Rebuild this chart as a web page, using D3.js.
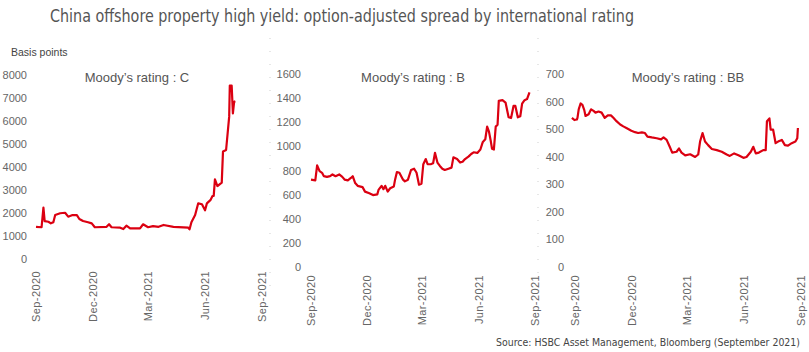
<!DOCTYPE html>
<html>
<head>
<meta charset="utf-8">
<script src="https://cdn.jsdelivr.net/npm/d3@7"></script>
<style>
  body { margin: 0; background: #fff; }
  svg { display: block; font-family: Arial, "Liberation Sans", sans-serif; }
  .tick text { fill: #666; font-size: 11px; }
  .line { fill: none; stroke: #db0011; stroke-width: 2.2; stroke-linejoin: round; }
  .narrow { font-family: "Liberation Sans Narrow", "DejaVu Sans Condensed", Arial, sans-serif; }
</style>
</head>
<body>
<svg width="809" height="352"></svg>
<script>
// panel titles and axis ticks
const panelTitles = ["Moody\u2019s rating : C", "Moody\u2019s rating : B", "Moody\u2019s rating : BB"];
const xTickDates = ["2020-09-01", "2020-12-01", "2021-03-01", "2021-06-01", "2021-09-01"];
const yTicksC = [0, 1000, 2000, 3000, 4000, 5000, 6000, 7000, 8000];
const yTicksB = [0, 200, 400, 600, 800, 1000, 1200, 1400, 1600];
const yTicksBB = [0, 100, 200, 300, 400, 500, 600, 700];

// Moody's C
const cDates = ["2020-09-01","2020-09-10","2020-09-13","2020-09-15","2020-09-21","2020-09-25","2020-09-29",
  "2020-10-02","2020-10-10","2020-10-18","2020-10-23","2020-10-30","2020-11-06","2020-11-10","2020-11-16",
  "2020-11-24","2020-11-30","2020-12-05","2020-12-24","2020-12-28","2021-01-01","2021-01-15","2021-01-20",
  "2021-01-25","2021-01-31","2021-02-16","2021-02-21","2021-03-01","2021-03-09","2021-03-18","2021-03-26",
  "2021-04-11","2021-05-05","2021-05-07","2021-05-10","2021-05-16","2021-05-21","2021-05-27","2021-06-01",
  "2021-06-04","2021-06-10","2021-06-13","2021-06-15","2021-06-17","2021-06-21","2021-06-28","2021-06-30",
  "2021-07-05","2021-07-10","2021-07-11","2021-07-14","2021-07-16","2021-07-18","2021-07-20"];
const cValues = [1400,1380,2230,1650,1620,1550,1600,
  1910,1990,2010,1840,1910,1910,1740,1650,
  1600,1550,1380,1400,1510,1380,1360,1300,
  1450,1330,1330,1510,1380,1430,1400,1480,
  1400,1360,1290,1600,1910,2420,2380,2120,
  2420,2570,2740,2740,3460,3170,3320,4670,
  4740,6190,7540,7540,6330,6840,6860];

// Moody's B
const bDates = ["2020-09-01","2020-09-08","2020-09-11","2020-09-15","2020-09-19","2020-09-22","2020-09-27",
  "2020-10-02","2020-10-06","2020-10-11","2020-10-17","2020-10-22","2020-10-26","2020-10-31","2020-11-05",
  "2020-11-08","2020-11-12","2020-11-16","2020-11-24","2020-11-28","2020-12-05","2020-12-11","2020-12-18",
  "2020-12-20","2020-12-25","2020-12-28","2020-12-31","2021-01-04","2021-01-08","2021-01-14","2021-01-16",
  "2021-01-19","2021-01-23","2021-01-29","2021-02-01","2021-02-06","2021-02-11","2021-02-16","2021-02-20",
  "2021-02-24","2021-02-28","2021-03-03","2021-03-07","2021-03-10","2021-03-15","2021-03-19","2021-03-22",
  "2021-03-26","2021-03-30","2021-04-03","2021-04-07","2021-04-13","2021-04-18","2021-04-21","2021-04-27",
  "2021-05-02","2021-05-06","2021-05-10","2021-05-16","2021-05-20","2021-05-24","2021-05-30","2021-06-04",
  "2021-06-08","2021-06-12","2021-06-15","2021-06-18","2021-06-21","2021-06-23","2021-06-26","2021-06-29",
  "2021-07-02","2021-07-04","2021-07-10","2021-07-15","2021-07-20","2021-07-24","2021-07-28","2021-07-31",
  "2021-08-04","2021-08-08","2021-08-11","2021-08-15","2021-08-19","2021-08-23"];
const bValues = [724,718,843,795,781,753,747,
  753,767,753,767,747,724,718,738,
  753,696,673,662,625,611,596,602,
  639,673,645,673,625,653,668,724,
  787,781,724,710,724,804,815,781,
  682,690,852,895,852,852,860,946,
  866,838,815,804,815,824,909,895,
  866,872,895,917,937,951,946,974,
  1037,1059,1164,1122,1042,980,974,1164,
  1179,1377,1383,1363,1241,1235,1335,1335,
  1241,1250,1355,1383,1392,1448];

// Moody's BB
const bbDates = ["2020-08-27","2020-08-31","2020-09-04","2020-09-05","2020-09-07","2020-09-10","2020-09-13",
  "2020-09-16","2020-09-18","2020-09-23","2020-09-27","2020-10-01","2020-10-04","2020-10-09","2020-10-14",
  "2020-10-19","2020-10-24","2020-10-29","2020-11-02","2020-11-07","2020-11-13","2020-11-18","2020-11-23",
  "2020-12-01","2020-12-07","2020-12-12","2020-12-18","2020-12-23","2020-12-27","2021-01-03","2021-01-11",
  "2021-01-18","2021-01-22","2021-01-27","2021-02-01","2021-02-05","2021-02-12","2021-02-16","2021-02-20",
  "2021-02-26","2021-03-06","2021-03-14","2021-03-19","2021-03-22","2021-03-26","2021-03-30","2021-04-04",
  "2021-04-10","2021-04-18","2021-04-26","2021-05-04","2021-05-09","2021-05-16","2021-05-23","2021-05-31",
  "2021-06-05","2021-06-12","2021-06-16","2021-06-20","2021-06-25","2021-07-02","2021-07-06","2021-07-08",
  "2021-07-12","2021-07-14","2021-07-18","2021-07-22","2021-07-26","2021-08-01","2021-08-06","2021-08-11",
  "2021-08-17","2021-08-23","2021-08-26","2021-08-27"];
const bbValues = [541,533,535,541,572,593,588,
  569,548,554,572,566,560,564,560,
  541,550,550,541,529,517,510,504,
  494,489,486,488,486,473,470,467,
  463,470,461,436,415,418,430,415,
  405,409,399,408,455,486,455,442,
  428,424,418,408,403,412,405,396,
  399,418,436,412,415,424,424,529,
  539,498,498,449,455,461,442,440,
  449,455,467,504];

const svg = d3.select("svg");
const parse = d3.timeParse("%Y-%m-%d");
const fmt = d3.timeFormat("%b-%Y");

// layout of the three small multiples
const panels = [
  { title: panelTitles[0], dates: cDates, values: cValues, ticks: yTicksC,
    left: 36, right: 262, top: 75, bottom: 259, labelX: 27, titleX: 137, xLab: 271 },
  { title: panelTitles[1], dates: bDates, values: bValues, ticks: yTicksB,
    left: 311, right: 535, top: 74, bottom: 267, labelX: 301, titleX: 413, xLab: 275 },
  { title: panelTitles[2], dates: bbDates, values: bbValues, ticks: yTicksBB,
    left: 575, right: 801, top: 74, bottom: 267, labelX: 564, titleX: 688, xLab: 275 }
];

svg.append("text")
  .attr("class", "narrow")
  .attr("x", 50).attr("y", 22)
  .attr("textLength", 584).attr("lengthAdjust", "spacingAndGlyphs")
  .attr("fill", "#555").style("font-size", "17px")
  .text("China offshore property high yield: option-adjusted spread by international rating");

svg.append("text")
  .attr("x", 11).attr("y", 56)
  .attr("fill", "#444").style("font-size", "10.5px")
  .text("Basis points");

svg.append("text")
  .attr("class", "narrow")
  .attr("x", 800).attr("y", 346)
  .attr("text-anchor", "end")
  .attr("textLength", 304).attr("lengthAdjust", "spacingAndGlyphs")
  .attr("fill", "#444").style("font-size", "10.5px")
  .text("Source: HSBC Asset Management, Bloomberg (September 2021)");

// faint dotted separators
[270, 538].forEach(sx => {
  svg.append("line")
    .attr("x1", sx).attr("x2", sx).attr("y1", 38).attr("y2", 290)
    .attr("stroke", "#cfcfcf").attr("stroke-dasharray", "1,12");
});

panels.forEach(p => {
  const data = p.dates.map((d, i) => ({ date: parse(d), value: p.values[i] }));

  const x = d3.scaleTime()
    .domain([parse(xTickDates[0]), parse(xTickDates[xTickDates.length - 1])])
    .range([p.left, p.right]);

  const y = d3.scaleLinear()
    .domain([0, d3.max(p.ticks)])
    .range([p.bottom, p.top]);

  // y axis, labels only
  const gy = svg.append("g")
    .attr("transform", `translate(${p.labelX},0)`)
    .call(d3.axisLeft(y).tickValues(p.ticks).tickFormat(d3.format("d")).tickSize(0).tickPadding(0));
  gy.select(".domain").remove();

  // x axis, rotated labels
  const gx = svg.append("g")
    .attr("transform", `translate(0,${p.xLab})`)
    .call(d3.axisBottom(x).tickValues(xTickDates.map(parse)).tickFormat(fmt).tickSize(0));
  gx.select(".domain").remove();
  gx.selectAll("text")
    .attr("y", 0).attr("x", 0).attr("dy", "0.35em")
    .attr("text-anchor", "end")
    .attr("transform", "rotate(-90)")
    .style("letter-spacing", "0.4px");

  svg.append("text")
    .attr("x", p.titleX).attr("y", 82)
    .attr("text-anchor", "middle")
    .attr("fill", "#555").style("font-size", "13px")
    .text(p.title);

  const line = d3.line()
    .x(d => x(d.date))
    .y(d => y(d.value));

  svg.append("path")
    .datum(data)
    .attr("class", "line")
    .attr("d", line);
});
</script>
</body>
</html>
